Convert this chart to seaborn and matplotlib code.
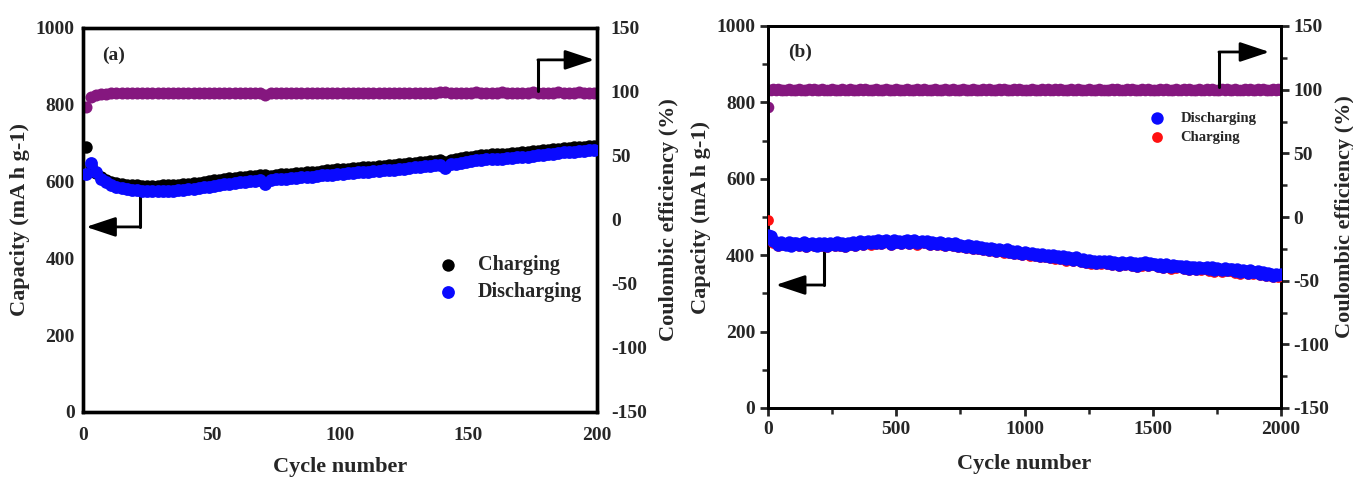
import numpy as np
import pandas as pd
import matplotlib
matplotlib.use("Agg")
import matplotlib.pyplot as plt
from matplotlib.ticker import MultipleLocator
import seaborn as sns

# ---------------- data: panel (a) ----------------
cycles_a = list(range(1, 201, 2))
charge_a = [690, 640, 622, 612, 605, 600, 597, 594, 592, 591,
            590, 589, 589, 589, 589, 590, 590, 591, 592, 593,
            594, 596, 597, 599, 601, 603, 605, 607, 609, 610,
            612, 613, 614, 615, 616, 617, 614, 618, 619, 620,
            621, 622, 623, 624, 625, 626, 628, 629, 630, 632,
            633, 634, 635, 636, 637, 638, 639, 640, 641, 642,
            644, 645, 646, 648, 649, 650, 652, 653, 654, 655,
            652, 657, 659, 661, 663, 665, 667, 668, 670, 671,
            672, 672, 673, 674, 675, 676, 677, 679, 680, 682,
            683, 684, 686, 687, 688, 689, 690, 691, 692, 692]
discharge_a = [620, 648, 625, 608, 598, 591, 586, 583, 580, 578,
               577, 576, 575, 575, 575, 575, 576, 576, 577, 578,
               580, 581, 583, 585, 587, 589, 591, 593, 595, 597,
               598, 600, 601, 602, 603, 595, 605, 606, 607, 608,
               609, 610, 611, 612, 613, 614, 616, 617, 618, 620,
               621, 622, 623, 624, 625, 626, 627, 628, 629, 630,
               631, 633, 634, 636, 637, 638, 640, 641, 642, 643,
               636, 645, 647, 649, 651, 653, 655, 656, 658, 659,
               660, 660, 661, 662, 663, 664, 665, 667, 668, 670,
               671, 673, 674, 676, 677, 678, 679, 680, 681, 682]
ce_a = [88, 96, 98, 98.5, 98.8, 99, 99, 99.2, 99, 99.1,
        99.2, 99, 99.3, 99.1, 99.2, 99, 99.3, 99.2, 99.1, 99.3,
        99.2, 99.4, 99.1, 99.3, 99.2, 99.4, 99.3, 99.1, 99.4, 99.2,
        99.3, 99.4, 99.2, 99.5, 99.3, 97.5, 99.4, 99.2, 99.5, 99.3,
        99.4, 99.2, 99.5, 99.3, 99.4, 99.6, 99.3, 99.5, 99.4, 99.3,
        99.5, 99.4, 99.6, 99.3, 99.5, 99.4, 99.6, 99.5, 99.3, 99.5,
        99.6, 99.4, 99.5, 99.3, 99.6, 99.5, 99.4, 99.6, 99.5, 99.7,
        99.8, 99.5, 99.6, 99.4, 99.6, 99.5, 99.7, 99.4, 99.6, 99.5,
        99.6, 99.7, 99.5, 99.6, 99.4, 99.6, 99.5, 99.7, 99.6, 99.5,
        99.6, 99.4, 99.7, 99.5, 99.6, 99.5, 99.7, 99.6, 99.5, 99.6]

# ---------------- data: panel (b) ----------------
cycles_b = [1] + list(range(10, 2001, 10))
discharge_b = [452,
               449, 437, 435, 427, 434, 430, 428, 435, 425, 431,
               433, 426, 430, 434, 424, 429, 432, 427, 425, 433,
               428, 431, 424, 433, 429, 426, 434, 428, 431, 425,
               432, 429, 435, 427, 433, 436, 430, 434, 438, 431,
               437, 433, 440, 432, 436, 441, 434, 430, 439, 435,
               438, 432, 437, 440, 433, 436, 439, 431, 435, 437,
               434, 437, 430, 435, 432, 429, 434, 431, 427, 432,
               430, 426, 431, 424, 428, 425, 421, 427, 423, 420,
               424, 418, 421, 416, 420, 414, 419, 415, 412, 417,
               413, 410, 415, 408, 412, 406, 410, 407, 404, 409,
               406, 402, 407, 400, 404, 398, 403, 399, 401, 396,
               400, 394, 398, 392, 397, 390, 395, 393, 388, 394,
               391, 385, 390, 383, 388, 382, 386, 380, 385, 381,
               386, 379, 384, 377, 382, 380, 375, 383, 378, 380,
               382, 375, 380, 373, 379, 376, 382, 374, 380, 377,
               378, 372, 377, 370, 376, 373, 369, 375, 371, 372,
               373, 367, 372, 365, 370, 368, 364, 370, 366, 367,
               369, 363, 368, 361, 366, 364, 360, 367, 362, 363,
               364, 358, 363, 356, 361, 359, 354, 360, 355, 357,
               358, 351, 356, 349, 354, 350, 346, 352, 347, 350]
charge_b = [492,
            440, 432, 431, 425, 430, 427, 426, 431, 423, 428,
            429, 423, 428, 430, 422, 426, 429, 424, 423, 430,
            425, 428, 421, 430, 426, 423, 431, 425, 428, 422,
            429, 426, 432, 424, 430, 433, 427, 431, 435, 428,
            434, 430, 437, 429, 433, 438, 431, 427, 436, 432,
            435, 429, 434, 437, 430, 433, 436, 428, 432, 434,
            431, 434, 427, 432, 429, 426, 431, 428, 424, 429,
            427, 423, 428, 421, 425, 422, 418, 424, 420, 417,
            421, 415, 418, 413, 417, 411, 416, 412, 409, 414,
            410, 407, 412, 405, 409, 403, 407, 404, 401, 406,
            403, 399, 404, 397, 401, 395, 400, 396, 398, 393,
            397, 391, 395, 389, 394, 386, 392, 389, 384, 390,
            388, 381, 387, 380, 385, 378, 383, 377, 382, 378,
            383, 376, 381, 374, 379, 377, 372, 380, 375, 377,
            379, 372, 377, 370, 376, 373, 379, 371, 377, 374,
            375, 368, 374, 366, 373, 370, 365, 372, 367, 368,
            370, 363, 369, 361, 367, 364, 360, 367, 362, 363,
            366, 359, 365, 357, 363, 360, 356, 364, 358, 359,
            361, 354, 360, 352, 358, 355, 350, 357, 351, 353,
            355, 347, 353, 345, 351, 346, 342, 349, 343, 346]
ce_b = [86,
        99.6, 100.2, 99.4, 100.5, 99.8, 100.1, 99.5, 100.3, 99.7, 100.0,
        99.5, 100.4, 99.8, 100.1, 99.6, 100.3, 99.9, 100.2, 99.5, 100.0,
        100.3, 99.7, 100.1, 99.6, 100.4, 99.8, 100.0, 99.5, 100.2, 99.9,
        99.6, 100.3, 99.8, 100.1, 99.5, 100.2, 99.7, 100.4, 99.9, 100.0,
        99.7, 100.2, 99.5, 100.1, 99.8, 100.3, 99.6, 100.0, 99.9, 100.2,
        99.8, 100.1, 99.6, 100.4, 99.7, 100.0, 99.5, 100.3, 99.9, 100.1,
        100.2, 99.6, 100.0, 99.8, 100.5, 99.7, 100.1, 99.6, 100.3, 99.8,
        99.9, 100.4, 99.6, 100.1, 99.7, 100.2, 99.5, 100.0, 99.8, 100.3,
        99.7, 100.1, 99.5, 100.2, 99.9, 100.4, 99.6, 100.0, 99.8, 100.6,
        99.7, 100.3, 99.6, 100.1, 99.8, 100.2, 99.5, 100.4, 99.7, 100.0,
        100.1, 99.6, 100.3, 99.8, 100.0, 99.5, 100.4, 99.7, 100.2, 99.9,
        99.8, 100.2, 99.6, 100.5, 99.7, 100.1, 99.9, 100.3, 99.5, 100.0,
        100.2, 99.7, 100.0, 99.6, 100.4, 99.8, 100.1, 99.5, 100.3, 99.9,
        99.6, 100.1, 99.8, 100.5, 99.7, 100.2, 99.6, 100.0, 99.9, 100.3,
        99.8, 100.4, 99.6, 100.1, 99.7, 100.3, 99.5, 100.2, 99.9, 100.0,
        100.1, 99.7, 100.4, 99.6, 100.2, 99.8, 100.0, 99.5, 100.3, 99.9,
        99.7, 100.2, 99.8, 100.6, 99.6, 100.1, 99.9, 100.4, 99.7, 100.0,
        100.3, 99.6, 100.5, 99.8, 100.1, 99.7, 100.6, 99.9, 100.2, 99.8,
        99.6, 100.3, 99.7, 100.1, 99.8, 100.4, 99.6, 100.2, 99.9, 100.0,
        100.2, 99.7, 100.3, 99.6, 100.1, 99.8, 100.2, 99.7, 100.4, 99.9]

df_a = pd.DataFrame({"cycle": cycles_a, "charge": charge_a,
                     "discharge": discharge_a, "ce": ce_a})
df_b = pd.DataFrame({"cycle": cycles_b, "charge": charge_b,
                     "discharge": discharge_b, "ce": ce_b})

BLUE = "#0a0aff"
PURPLE = "#85177f"
RED = "#ff1010"

sns.set_style("white")
plt.rcParams["font.family"] = ["Liberation Serif", "DejaVu Serif"]
plt.rcParams["font.weight"] = "bold"
plt.rcParams["axes.labelweight"] = "bold"
plt.rcParams["axes.unicode_minus"] = False

fig = plt.figure(figsize=(13.53, 4.8), dpi=100)
ax_a = fig.add_axes([83 / 1353, 1 - 412 / 480, 514 / 1353, 384 / 480])
ax_b = fig.add_axes([768 / 1353, 1 - 408 / 480, 513 / 1353, 382 / 480])
ax_a2 = ax_a.twinx()
ax_b2 = ax_b.twinx()

# ---- panel (a) ----
sns.scatterplot(data=df_a, x="cycle", y="charge", ax=ax_a, color="black",
                s=80, linewidth=0, label="Charging", zorder=3)
sns.scatterplot(data=df_a, x="cycle", y="discharge", ax=ax_a, color=BLUE,
                s=85, linewidth=0, label="Discharging", zorder=4)
sns.scatterplot(data=df_a, x="cycle", y="ce", ax=ax_a2, color=PURPLE,
                s=75, linewidth=0, legend=False)

# ---- panel (b) ----
sns.scatterplot(data=df_b, x="cycle", y="charge", ax=ax_b, color=RED,
                s=60, linewidth=0, label="Charging", zorder=3)
sns.scatterplot(data=df_b, x="cycle", y="discharge", ax=ax_b, color=BLUE,
                s=80, linewidth=0, label="Discharging", zorder=4)
sns.scatterplot(data=df_b, x="cycle", y="ce", ax=ax_b2, color=PURPLE,
                s=70, linewidth=0, legend=False)

label_fs = 16
tick_fs = 14

for ax, ax2, xmax, xstep, lw, xpad, rpad in [(ax_a, ax_a2, 200, 50, 2.4, 9, 9),
                                             (ax_b, ax_b2, 2000, 500, 2.0, 12, 4)]:
    ax.set_xlim(0, xmax)
    ax.set_ylim(0, 1000)
    ax2.set_ylim(-150, 150)
    ax.xaxis.set_major_locator(MultipleLocator(xstep))
    ax.yaxis.set_major_locator(MultipleLocator(200))
    ax2.yaxis.set_major_locator(MultipleLocator(50))
    ax.set_xlabel("Cycle number", fontsize=label_fs, fontweight="bold", labelpad=xpad)
    ax.set_ylabel("Capacity (mA h g-1)", fontsize=label_fs, fontweight="bold", labelpad=4)
    ax2.set_ylabel("Coulombic efficiency (%)", fontsize=label_fs, fontweight="bold", labelpad=rpad)
    for a in (ax, ax2):
        for sp in a.spines.values():
            sp.set_linewidth(lw)
            sp.set_color("black")
        for t in a.get_xticklabels() + a.get_yticklabels():
            t.set_fontweight("bold")
            t.set_fontsize(tick_fs)

ax_a.tick_params(axis="y", direction="in", length=0, pad=6)
ax_a.tick_params(axis="x", direction="in", length=0, pad=11)
ax_a2.tick_params(direction="in", length=0, pad=10)
ax_b.xaxis.set_minor_locator(MultipleLocator(250))
ax_b.yaxis.set_minor_locator(MultipleLocator(100))
ax_b2.yaxis.set_minor_locator(MultipleLocator(25))
for a in (ax_b, ax_b2):
    a.tick_params(which="major", direction="out", length=6, width=2, pad=3)
    a.tick_params(which="minor", direction="out", length=4, width=1.8)
ax_b.tick_params(axis="x", which="both", bottom=True)
ax_b.tick_params(axis="y", which="both", left=True)
ax_b2.tick_params(axis="y", which="both", right=True)

# panel labels
ax_a.text(0.037, 0.93, "(a)", transform=ax_a.transAxes, fontsize=14,
          fontweight="bold", va="center")
ax_b.text(0.039, 0.932, "(b)", transform=ax_b.transAxes, fontsize=14,
          fontweight="bold", va="center")

# legends
ax_a.legend(loc="upper left", bbox_to_anchor=(0.635, 0.455), frameon=False,
            handletextpad=0.5, labelspacing=0.35, markerscale=1.0,
            prop={"weight": "bold", "size": 14.5})
h, l = ax_b.get_legend_handles_labels()
order = [l.index("Discharging"), l.index("Charging")]
ax_b.legend([h[i] for i in order], [l[i] for i in order],
            loc="upper left", bbox_to_anchor=(0.705, 0.81), frameon=False,
            handletextpad=0.6, labelspacing=0.4,
            prop={"weight": "bold", "size": 10.5})

# direction arrows (annotation guides)
arrow_kw = dict(arrowstyle="-|>,head_length=1.8,head_width=0.6", color="black",
                lw=2, mutation_scale=10, shrinkA=0, shrinkB=0)
# panel a: left arrow
ax_a.plot([22, 22], [575, 482], color="black", lw=2.2)
ax_a.annotate("", xy=(1.2, 482), xytext=(22, 482), arrowprops=arrow_kw)
# panel a: right arrow
ax_a.plot([177, 177], [835, 917], color="black", lw=2.2)
ax_a.annotate("", xy=(199, 917), xytext=(177, 917), arrowprops=arrow_kw)
# panel b: left arrow
ax_b.plot([218, 218], [420, 322], color="black", lw=2.2)
ax_b.annotate("", xy=(30, 322), xytext=(218, 322), arrowprops=arrow_kw)
# panel b: right arrow
ax_b.plot([1758, 1758], [840, 932], color="black", lw=2.2)
ax_b.annotate("", xy=(1955, 932), xytext=(1758, 932), arrowprops=arrow_kw)

ax_a2.set_zorder(ax_a.get_zorder() - 1)
ax_b2.set_zorder(ax_b.get_zorder() - 1)
ax_a.patch.set_visible(False)
ax_b.patch.set_visible(False)

fig.savefig("out.png", dpi=100, facecolor="white")
